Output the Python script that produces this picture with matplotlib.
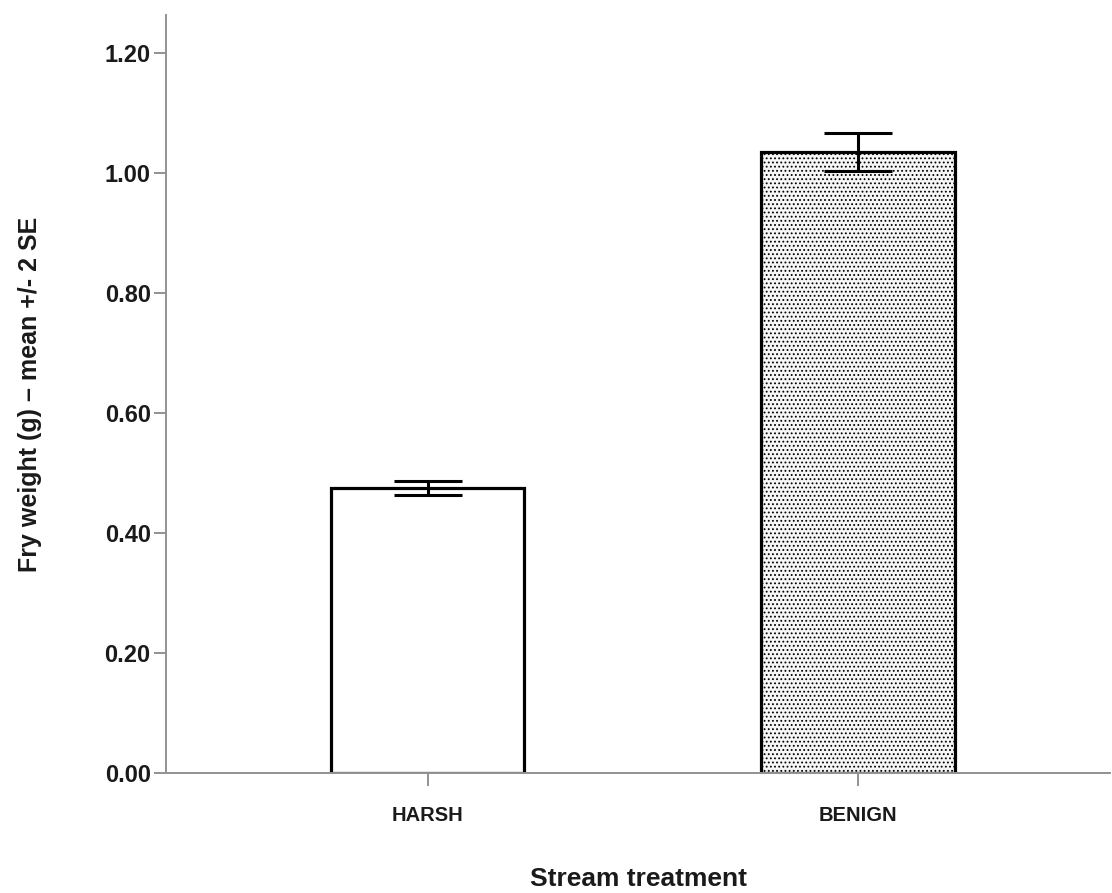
import matplotlib
matplotlib.use("Agg")
import matplotlib.pyplot as plt
import numpy as np

categories = ["HARSH", "BENIGN"]
means = [0.475, 1.035]
two_se = [0.011, 0.032]
y_ticks = [0.00, 0.20, 0.40, 0.60, 0.80, 1.00, 1.20]

plt.rcParams["font.family"] = ["Liberation Sans", "DejaVu Sans"]
plt.rcParams["font.weight"] = "bold"
plt.rcParams["hatch.color"] = "#dedede"
plt.rcParams["hatch.linewidth"] = 0.8

fig = plt.figure(figsize=(11.12, 8.93), dpi=100)
ax = fig.add_axes([166 / 1112, 1 - 773 / 893, (1110 - 166) / 1112, (773 - 15) / 893])

x = np.arange(len(categories))
faces = ["white", "#f6f6f6"]
hatches = [None, "...."]
for xi, m, f, h in zip(x, means, faces, hatches):
    ax.bar(xi, m, width=0.449, facecolor=f, edgecolor="black", linewidth=2.3,
           hatch=h, zorder=2)
ax.errorbar(x, means, yerr=two_se, fmt="none", ecolor="black", elinewidth=2.2,
            capsize=24.5, capthick=2.2, zorder=3)

ax.set_xlim(-0.609, 1.586)
ax.set_ylim(0, 1.263)
ax.set_xticks(x)
ax.set_xticklabels(categories, fontsize=14.5, fontweight="bold")
ax.set_yticks(y_ticks)
ax.set_yticklabels([f"{v:.2f}" for v in y_ticks], fontsize=17, fontweight="bold")

for s in ["top", "right"]:
    ax.spines[s].set_visible(False)
for s in ["left", "bottom"]:
    ax.spines[s].set_color("#929292")
    ax.spines[s].set_linewidth(1.4)
ax.tick_params(axis="both", colors="#929292", length=9, width=1.4, labelcolor="#1a1a1a")
ax.tick_params(axis="x", pad=15)
ax.tick_params(axis="y", pad=2)

ax.set_xlabel("Stream treatment", fontsize=19, fontweight="bold", labelpad=30, color="#1a1a1a")
ax.set_ylabel("Fry weight (g) \u2013 mean +/- 2 SE", fontsize=18, fontweight="bold",
              labelpad=45, color="#1a1a1a")

fig.savefig("out.png", dpi=100)
